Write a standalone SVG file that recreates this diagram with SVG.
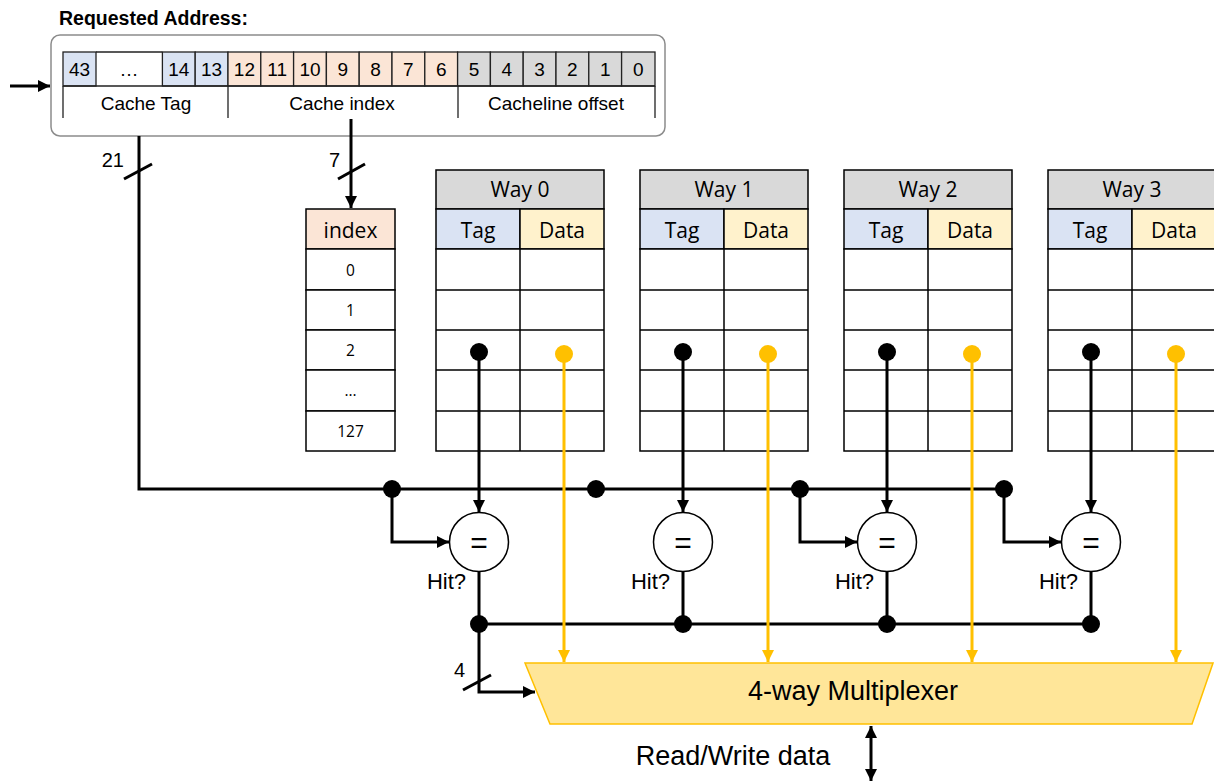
<svg xmlns="http://www.w3.org/2000/svg" width="1214" height="783" viewBox="0 0 1214 783">
  <defs>
    <style>
      .sans { font-family: "Liberation Sans", Arial, sans-serif; fill: #000; }
      .tbl { font-family: "Open Sans", "Noto Sans", sans-serif; fill: #000; }
      .cell { stroke: #000; stroke-width: 1.5; }
      .acell { stroke: #222; stroke-width: 1.3; }
      .wire { fill: none; stroke: #000; stroke-width: 3; }
      .ywire { fill: none; stroke: #ffc000; stroke-width: 3; }
      .dot { fill: #000; }
      .ydot { fill: #ffc000; }
      .hdr { fill: #d9d9d9; }
      .tag { fill: #dae3f3; }
      .data { fill: #fff2cc; }
      .idx { fill: #fbe5d6; }
      .white { fill: #fff; }
    </style>
    <marker id="arr" markerUnits="userSpaceOnUse" markerWidth="14" markerHeight="14" refX="12" refY="7" orient="auto">
      <path d="M0,1 L12,7 L0,13 Z" fill="#000"/>
    </marker>
    <marker id="arrStart" markerUnits="userSpaceOnUse" markerWidth="14" markerHeight="14" refX="0" refY="7" orient="auto">
      <path d="M12,1 L0,7 L12,13 Z" fill="#000"/>
    </marker>
    <marker id="yarr" markerUnits="userSpaceOnUse" markerWidth="14" markerHeight="14" refX="12" refY="7" orient="auto">
      <path d="M0,1 L12,7 L0,13 Z" fill="#ffc000"/>
    </marker>
  </defs>

  <rect x="0" y="0" width="1214" height="783" fill="#fff"/>

  <!-- Requested address -->
  <g id="address">
    <text class="sans" x="59" y="25" font-size="19.5" font-weight="bold">Requested Address:</text>
    <rect x="51" y="35" width="614" height="101" rx="9" fill="#fff" stroke="#8c8c8c" stroke-width="1.5"/>
    <g class="acell">
      <rect x="63" y="52" width="33" height="34" class="tag"/>
      <rect x="162.4" y="52" width="32.8" height="34" class="tag"/>
      <rect x="195.2" y="52" width="32.8" height="34" class="tag"/>
      <rect x="228" y="52" width="32.8" height="34" class="idx"/>
      <rect x="260.8" y="52" width="32.8" height="34" class="idx"/>
      <rect x="293.6" y="52" width="32.8" height="34" class="idx"/>
      <rect x="326.4" y="52" width="32.8" height="34" class="idx"/>
      <rect x="359.2" y="52" width="32.8" height="34" class="idx"/>
      <rect x="392" y="52" width="32.8" height="34" class="idx"/>
      <rect x="424.8" y="52" width="32.8" height="34" class="idx"/>
      <rect x="457.6" y="52" width="32.8" height="34" class="hdr"/>
      <rect x="490.4" y="52" width="32.8" height="34" class="hdr"/>
      <rect x="523.2" y="52" width="32.8" height="34" class="hdr"/>
      <rect x="556" y="52" width="32.8" height="34" class="hdr"/>
      <rect x="588.8" y="52" width="32.8" height="34" class="hdr"/>
      <rect x="621.6" y="52" width="33.4" height="34" class="hdr"/>
      <path d="M96,52 H162.4 M63,86 H655 M63,86 V118 M228,86 V118 M458,86 V118 M655,86 V118" fill="none"/>
    </g>
    <g class="sans" font-size="19" text-anchor="middle">
      <text x="79.5" y="76">43</text>
      <text x="129" y="76">…</text>
      <text x="178.8" y="76">14</text>
      <text x="211.6" y="76">13</text>
      <text x="244.4" y="76">12</text>
      <text x="277.2" y="76">11</text>
      <text x="310" y="76">10</text>
      <text x="342.8" y="76">9</text>
      <text x="375.6" y="76">8</text>
      <text x="408.4" y="76">7</text>
      <text x="441.2" y="76">6</text>
      <text x="474" y="76">5</text>
      <text x="506.8" y="76">4</text>
      <text x="539.6" y="76">3</text>
      <text x="572.4" y="76">2</text>
      <text x="605.2" y="76">1</text>
      <text x="638.3" y="76">0</text>
      <text x="146" y="110">Cache Tag</text>
      <text x="342" y="110">Cache index</text>
      <text x="556" y="110">Cacheline offset</text>
    </g>
  </g>

  <!-- Index table -->
  <g id="index-table">
    <g class="cell">
      <rect x="306" y="209" width="89" height="40" class="idx"/>
      <rect x="306" y="249" width="89" height="41" class="white"/>
      <rect x="306" y="290" width="89" height="40" class="white"/>
      <rect x="306" y="330" width="89" height="40" class="white"/>
      <rect x="306" y="370" width="89" height="41" class="white"/>
      <rect x="306" y="411" width="89" height="40" class="white"/>
    </g>
    <g class="tbl" text-anchor="middle">
      <text x="350.5" y="238" font-size="21">index</text>
      <text x="350.5" y="276" font-size="15.5">0</text>
      <text x="350.5" y="316" font-size="15.5">1</text>
      <text x="350.5" y="356" font-size="15.5">2</text>
      <text x="350.5" y="396" font-size="15.5">...</text>
      <text x="350.5" y="437" font-size="15.5">127</text>
    </g>
  </g>

  <!-- Ways -->
  <g id="way0" transform="translate(436,170)">
    <g class="cell">
      <rect x="0" y="0" width="168" height="39" class="hdr"/>
      <rect x="0" y="39" width="84" height="40" class="tag"/>
      <rect x="84" y="39" width="84" height="40" class="data"/>
      <rect x="0" y="79" width="168" height="202" class="white"/>
      <path d="M84,79 V281 M0,120 H168 M0,160 H168 M0,200 H168 M0,241 H168" fill="none"/>
    </g>
    <g class="tbl" font-size="21" text-anchor="middle">
      <text x="84" y="27">Way 0</text>
      <text x="42" y="68">Tag</text>
      <text x="126" y="68">Data</text>
    </g>
  </g>
  <g id="way1" transform="translate(640,170)">
    <g class="cell">
      <rect x="0" y="0" width="168" height="39" class="hdr"/>
      <rect x="0" y="39" width="84" height="40" class="tag"/>
      <rect x="84" y="39" width="84" height="40" class="data"/>
      <rect x="0" y="79" width="168" height="202" class="white"/>
      <path d="M84,79 V281 M0,120 H168 M0,160 H168 M0,200 H168 M0,241 H168" fill="none"/>
    </g>
    <g class="tbl" font-size="21" text-anchor="middle">
      <text x="84" y="27">Way 1</text>
      <text x="42" y="68">Tag</text>
      <text x="126" y="68">Data</text>
    </g>
  </g>
  <g id="way2" transform="translate(844,170)">
    <g class="cell">
      <rect x="0" y="0" width="168" height="39" class="hdr"/>
      <rect x="0" y="39" width="84" height="40" class="tag"/>
      <rect x="84" y="39" width="84" height="40" class="data"/>
      <rect x="0" y="79" width="168" height="202" class="white"/>
      <path d="M84,79 V281 M0,120 H168 M0,160 H168 M0,200 H168 M0,241 H168" fill="none"/>
    </g>
    <g class="tbl" font-size="21" text-anchor="middle">
      <text x="84" y="27">Way 2</text>
      <text x="42" y="68">Tag</text>
      <text x="126" y="68">Data</text>
    </g>
  </g>
  <g id="way3" transform="translate(1048,170)">
    <g class="cell">
      <rect x="0" y="0" width="168" height="39" class="hdr"/>
      <rect x="0" y="39" width="84" height="40" class="tag"/>
      <rect x="84" y="39" width="84" height="40" class="data"/>
      <rect x="0" y="79" width="168" height="202" class="white"/>
      <path d="M84,79 V281 M0,120 H168 M0,160 H168 M0,200 H168 M0,241 H168" fill="none"/>
    </g>
    <g class="tbl" font-size="21" text-anchor="middle">
      <text x="84" y="27">Way 3</text>
      <text x="42" y="68">Tag</text>
      <text x="126" y="68">Data</text>
    </g>
  </g>

  <!-- Connectors -->
  <g id="connectors">
    <!-- input -->
    <path class="wire" d="M10,86 H50" marker-end="url(#arr)"/>
    <!-- tag bus -->
    <path class="wire" d="M139,136 V489 H1004"/>
    <path class="wire" d="M124,179 L152,164"/>
    <text class="sans" x="124" y="167" font-size="20" text-anchor="end">21</text>
    <!-- index -->
    <path class="wire" d="M351,119 V208" marker-end="url(#arr)"/>
    <path class="wire" d="M338,179 L365,164"/>
    <text class="sans" x="340" y="167" font-size="20" text-anchor="end">7</text>
    <!-- tag outputs into comparators -->
    <path class="wire" d="M479,352 V512" marker-end="url(#arr)"/>
    <path class="wire" d="M683,352 V512" marker-end="url(#arr)"/>
    <path class="wire" d="M887,352 V512" marker-end="url(#arr)"/>
    <path class="wire" d="M1091,352 V512" marker-end="url(#arr)"/>
    <!-- bus branches -->
    <path class="wire" d="M392,489 V542 H449" marker-end="url(#arr)"/>
    <path class="wire" d="M800,489 V542 H857" marker-end="url(#arr)"/>
    <path class="wire" d="M1004,489 V542 H1061" marker-end="url(#arr)"/>
    <!-- hit outputs -->
    <path class="wire" d="M479,572 V692 H535" marker-end="url(#arr)"/>
    <path class="wire" d="M683,572 V624"/>
    <path class="wire" d="M887,572 V624"/>
    <path class="wire" d="M1091,572 V624"/>
    <path class="wire" d="M479,624 H1091"/>
    <path class="wire" d="M463,690 L491,675"/>
    <text class="sans" x="465" y="677" font-size="20" text-anchor="end">4</text>
    <!-- data lines -->
    <path class="ywire" d="M564,354 V662" marker-end="url(#yarr)"/>
    <path class="ywire" d="M768,354 V662" marker-end="url(#yarr)"/>
    <path class="ywire" d="M972,354 V662" marker-end="url(#yarr)"/>
    <path class="ywire" d="M1176,354 V662" marker-end="url(#yarr)"/>
    <!-- read/write -->
    <path class="wire" d="M871,726 V781" marker-start="url(#arrStart)" marker-end="url(#arr)"/>
    <!-- dots -->
    <circle class="dot" cx="479" cy="352" r="9"/>
    <circle class="dot" cx="683" cy="352" r="9"/>
    <circle class="dot" cx="887" cy="352" r="9"/>
    <circle class="dot" cx="1091" cy="352" r="9"/>
    <circle class="ydot" cx="564" cy="354" r="9"/>
    <circle class="ydot" cx="768" cy="354" r="9"/>
    <circle class="ydot" cx="972" cy="354" r="9"/>
    <circle class="ydot" cx="1176" cy="354" r="9"/>
    <circle class="dot" cx="392" cy="489" r="9"/>
    <circle class="dot" cx="596" cy="489" r="9"/>
    <circle class="dot" cx="800" cy="489" r="9"/>
    <circle class="dot" cx="1004" cy="489" r="9"/>
    <circle class="dot" cx="479" cy="624" r="9"/>
    <circle class="dot" cx="683" cy="624" r="9"/>
    <circle class="dot" cx="887" cy="624" r="9"/>
    <circle class="dot" cx="1091" cy="624" r="9"/>
  </g>

  <!-- Comparators -->
  <g id="cmp0">
    <circle cx="479" cy="542" r="29.5" fill="#fff" stroke="#000" stroke-width="1.5"/>
    <text class="sans" x="479" y="553" font-size="30" text-anchor="middle">=</text>
    <text class="sans" x="466" y="589" font-size="22" text-anchor="end">Hit?</text>
  </g>
  <g id="cmp1">
    <circle cx="683" cy="542" r="29.5" fill="#fff" stroke="#000" stroke-width="1.5"/>
    <text class="sans" x="683" y="553" font-size="30" text-anchor="middle">=</text>
    <text class="sans" x="670" y="589" font-size="22" text-anchor="end">Hit?</text>
  </g>
  <g id="cmp2">
    <circle cx="887" cy="542" r="29.5" fill="#fff" stroke="#000" stroke-width="1.5"/>
    <text class="sans" x="887" y="553" font-size="30" text-anchor="middle">=</text>
    <text class="sans" x="874" y="589" font-size="22" text-anchor="end">Hit?</text>
  </g>
  <g id="cmp3">
    <circle cx="1091" cy="542" r="29.5" fill="#fff" stroke="#000" stroke-width="1.5"/>
    <text class="sans" x="1091" y="553" font-size="30" text-anchor="middle">=</text>
    <text class="sans" x="1078" y="589" font-size="22" text-anchor="end">Hit?</text>
  </g>

  <!-- Multiplexer -->
  <g id="mux">
    <path d="M525,663 L1213,663 L1192,724 L550,724 Z" fill="#ffe699" stroke="#ffc000" stroke-width="1.5"/>
    <text class="sans" x="853" y="700" font-size="27" text-anchor="middle">4-way Multiplexer</text>
  </g>

  <g id="rw-label">
    <text class="sans" x="733" y="765" font-size="27" text-anchor="middle">Read/Write data</text>
  </g>
</svg>
